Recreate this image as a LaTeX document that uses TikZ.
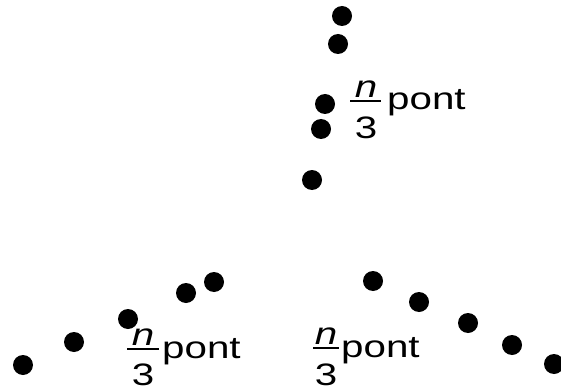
\documentclass[tikz,border=0pt]{standalone}
\usepackage{fontspec}
\setmainfont{Liberation Sans}
\begin{document}
\begin{tikzpicture}[x=1pt,y=-1pt,
  dot/.style={circle,fill=black,inner sep=0pt,minimum size=20pt},
  lab/.style={inner sep=0pt,font=\fontsize{31}{35}\selectfont},
  bar/.style={line width=2pt}]
\useasboundingbox (0,0) rectangle (561,390);
% top column
\node[dot] (t1) at (342,16) {};
\node[dot] (t2) at (338,44) {};
\node[dot] (t3) at (325,104) {};
\node[dot] (t4) at (321,129) {};
\node[dot] (t5) at (312,180) {};
% bottom left
\node[dot] (l1) at (23,365) {};
\node[dot] (l2) at (74,342) {};
\node[dot] (l3) at (128,319) {};
\node[dot] (l4) at (186,293) {};
\node[dot] (l5) at (214,282) {};
% bottom right
\node[dot] (r1) at (373,281) {};
\node[dot] (r2) at (419,302) {};
\node[dot] (r3) at (468,323) {};
\node[dot] (r4) at (512,345) {};
\node[dot] (r5) at (554,364) {};
% top label
\node[lab,anchor=base] (tn) at (366,98) {\scalebox{1.3}[1]{\itshape n}};
\node[lab,anchor=base] (t3d) at (366,139) {\scalebox{1.3}[1]{3}};
\draw[bar] (350,101) -- (381,101);
\node[lab,anchor=base west] (tp) at (387,110) {\scalebox{1.3}[1]{pont}};
% bottom-left label
\node[lab,anchor=base] (ln) at (143,345) {\scalebox{1.3}[1]{\itshape n}};
\node[lab,anchor=base] (l3d) at (143,385) {\scalebox{1.3}[1]{3}};
\draw[bar] (127,349) -- (159,349);
\node[lab,anchor=base west] (lp) at (162,358) {\scalebox{1.3}[1]{pont}};
% bottom-right label
\node[lab,anchor=base] (rn) at (326,344) {\scalebox{1.3}[1]{\itshape n}};
\node[lab,anchor=base] (r3d) at (326,385) {\scalebox{1.3}[1]{3}};
\draw[bar] (313,348) -- (339,348);
\node[lab,anchor=base west] (rp) at (341,357) {\scalebox{1.3}[1]{pont}};
\end{tikzpicture}
\end{document}
